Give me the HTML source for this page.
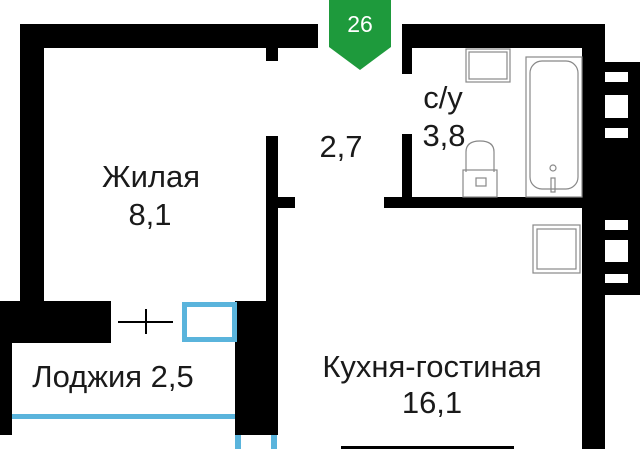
<!DOCTYPE html>
<html><head><meta charset="utf-8"><style>
html,body{margin:0;padding:0;background:#fff;}
svg{display:block;}
text{font-family:"Liberation Sans",sans-serif;fill:#1a1a1a;}
</style></head><body>
<svg width="640" height="449" viewBox="0 0 640 449" xmlns="http://www.w3.org/2000/svg">
<g fill="#000">
<rect x="20" y="24" width="298" height="24"/>
<rect x="20" y="24" width="24" height="278"/>
<rect x="266" y="48" width="12" height="13"/>
<rect x="402" y="24" width="203" height="24"/>
<rect x="402" y="24" width="10" height="50"/>
<rect x="582" y="24" width="23" height="425"/>
<rect x="605" y="62" width="35" height="233"/>
<rect x="402" y="134" width="10" height="70"/>
<rect x="384" y="197" width="198" height="11"/>
<rect x="266" y="136" width="12" height="166"/>
<rect x="278" y="197" width="17" height="11"/>
<rect x="235" y="301" width="43" height="134"/>
<rect x="0" y="301" width="111" height="42"/>
<rect x="0" y="343" width="12" height="92"/>
<rect x="341" y="446" width="173" height="3"/>
</g>
<g fill="#fff">
<rect x="605" y="72" width="23" height="10"/>
<rect x="605" y="95" width="23" height="23"/>
<rect x="605" y="128" width="23" height="10"/>
<rect x="605" y="220" width="23" height="10"/>
<rect x="605" y="240" width="23" height="22"/>
<rect x="605" y="274" width="23" height="9"/>
</g>
<polygon points="329,0 391,0 391,47 360,70 329,47" fill="#1e9a3c"/>
<text x="360" y="32" text-anchor="middle" font-size="23" style="fill:#fff">26</text>
<g fill="none" stroke="#888" stroke-width="1.2">
<rect x="466" y="49" width="44" height="33"/>
<rect x="469" y="52" width="38" height="27"/>
<rect x="526" y="57" width="56" height="140"/>
<rect x="530" y="61" width="48" height="128" rx="12"/>
<circle cx="553" cy="168" r="3"/>
<rect x="551" y="178" width="4" height="14"/>
<rect x="463" y="170" width="34" height="27"/>
<path d="M466,172 L466,152 Q466,141 480,141 Q494,141 494,152 L494,172"/>
<rect x="476" y="178" width="10" height="8"/>
<rect x="533" y="225" width="47" height="48"/>
<rect x="537" y="229" width="39" height="40"/>
</g>
<g fill="none" stroke="#5ab4dc" stroke-width="5">
<rect x="184.5" y="304.5" width="50" height="35"/>
</g>
<rect x="12" y="414" width="223" height="5" fill="#5ab4dc"/>
<rect x="235" y="435" width="6" height="14" fill="#5ab4dc"/>
<rect x="271" y="435" width="6" height="14" fill="#5ab4dc"/>
<g stroke="#000" stroke-width="2">
<line x1="118" y1="322" x2="173" y2="322"/>
<line x1="146" y1="309" x2="146" y2="334"/>
</g>
<g font-size="31">
<text x="151" y="187" text-anchor="middle">Жилая</text>
<text x="150" y="225" text-anchor="middle">8,1</text>
<text x="341" y="157" text-anchor="middle">2,7</text>
<text x="443" y="108" text-anchor="middle">с/у</text>
<text x="444" y="146" text-anchor="middle">3,8</text>
<text x="113" y="387" text-anchor="middle">Лоджия 2,5</text>
<text x="432" y="377" text-anchor="middle">Кухня-гостиная</text>
<text x="432" y="413" text-anchor="middle">16,1</text>
</g>
</svg>
</body></html>
